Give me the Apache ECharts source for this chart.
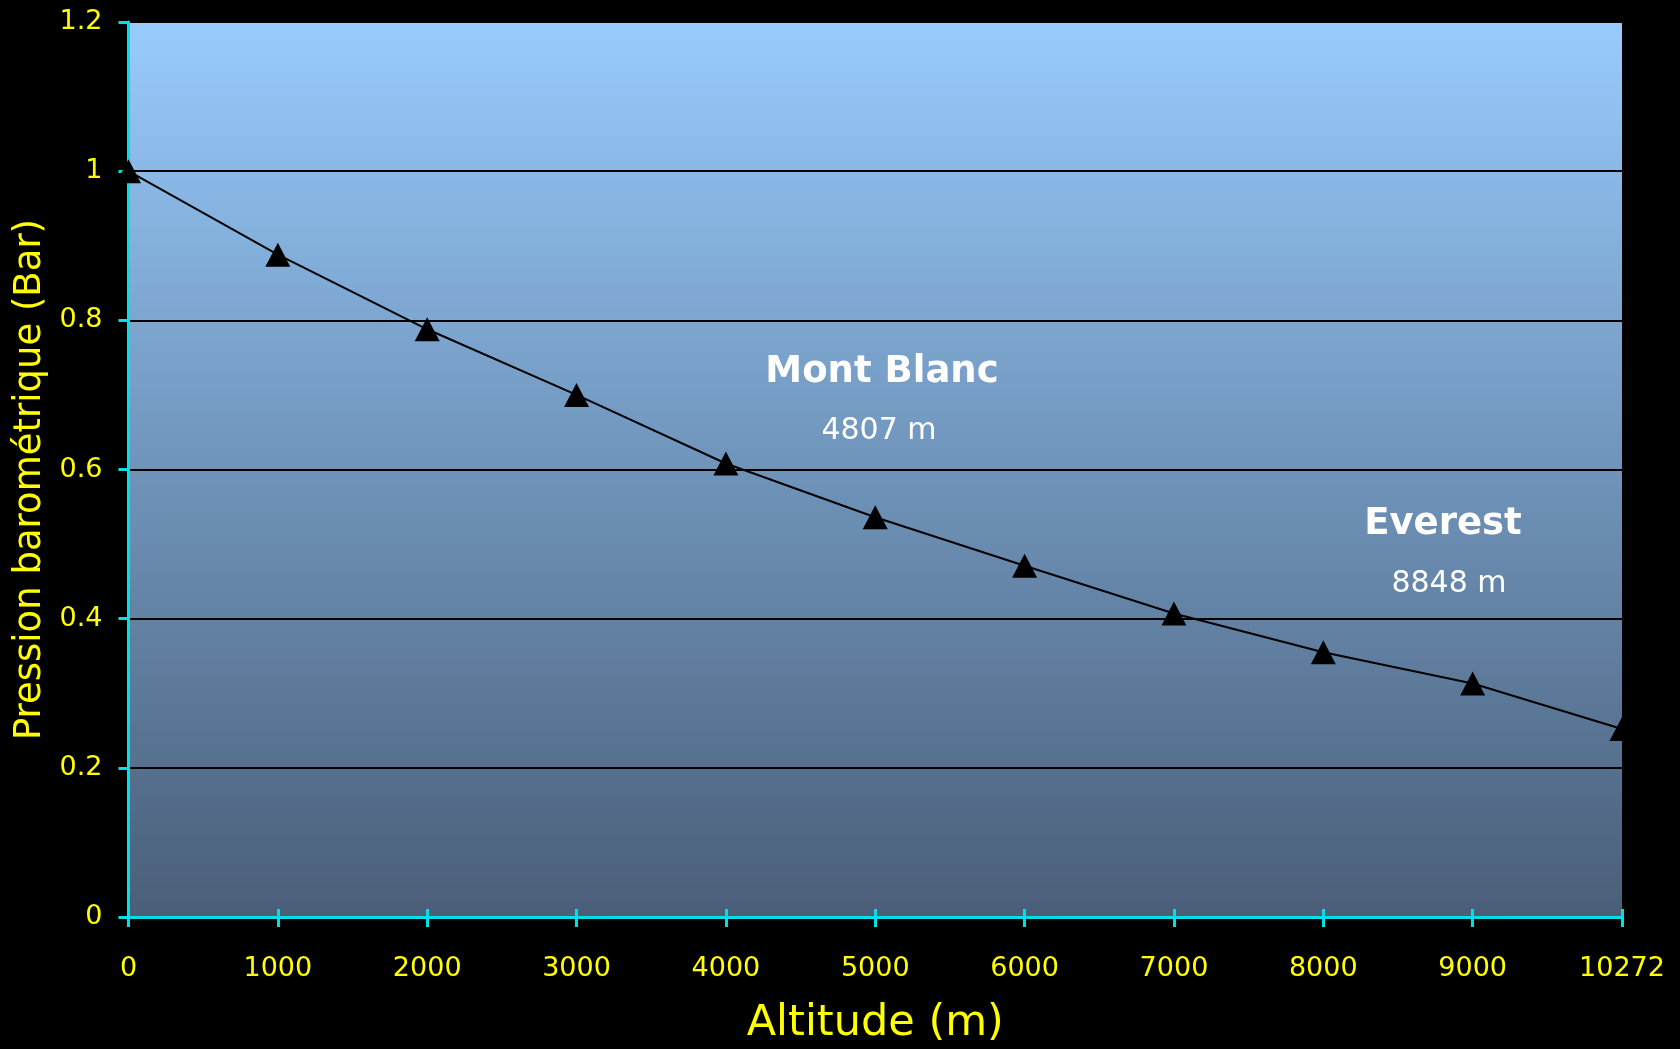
<!DOCTYPE html>
<html>
<head>
<meta charset="utf-8">
<script src="https://cdn.jsdelivr.net/npm/echarts@6/dist/echarts.min.js"></script>
<style>
  html, body { margin: 0; padding: 0; background: #000; }
  #chart { width: 1680px; height: 1049px; }
</style>
</head>
<body>
<div id="chart"></div>
<script>
// Barometric pressure versus altitude
const altitudes = ['0', '1000', '2000', '3000', '4000', '5000', '6000', '7000', '8000', '9000', '10272'];
const pressures = [1.0, 0.888, 0.788, 0.700, 0.608, 0.536, 0.471, 0.407, 0.355, 0.313, 0.252];
const yTicks = { min: 0, max: 1.2, interval: 0.2 };
const peaks = [
  { name: 'Mont Blanc', height: '4807 m' },
  { name: 'Everest', height: '8848 m' }
];

const FONT = '"Comic Sans MS", "DejaVu Sans", sans-serif';
const CYAN = '#00E0E6';
const YELLOW = '#FFFF00';

// label placement for the two summits (pixels): [nameX, nameY, heightX, heightY]
const peakPos = [[882, 372, 879, 431], [1443, 524, 1449, 584]];

const chart = echarts.init(document.getElementById('chart'));

const graphics = [];
peaks.forEach((p, i) => {
  const [nx, ny, hx, hy] = peakPos[i];
  graphics.push({
    type: 'text', x: nx, y: ny, z: 10,
    style: { text: p.name, fill: '#fff', font: 'bold 37px ' + FONT, align: 'center', verticalAlign: 'middle' }
  });
  graphics.push({
    type: 'text', x: hx, y: hy, z: 10,
    style: { text: p.height, fill: '#fff', font: '30px ' + FONT, align: 'center', verticalAlign: 'middle' }
  });
});

chart.setOption({
  backgroundColor: '#000',
  animation: false,
  grid: {
    left: 128.5, right: 58, top: 22, bottom: 132,
    outerBoundsMode: 'none',
    containLabel: false,
    show: true, borderWidth: 0,
    backgroundColor: {
      type: 'linear', x: 0, y: 0, x2: 0, y2: 1,
      colorStops: [
        { offset: 0, color: '#98CBFD' },
        { offset: 0.5, color: '#6F94BA' },
        { offset: 1, color: '#4A5E78' }
      ]
    }
  },
  xAxis: [
    {
      type: 'category', data: altitudes, boundaryGap: false,
      name: 'Altitude (m)', nameLocation: 'middle', nameGap: 85,
      nameTextStyle: { color: YELLOW, fontFamily: FONT, fontSize: 43 },
      axisLine: { lineStyle: { color: CYAN, width: 3 } },
      axisTick: { show: true, length: 10, lineStyle: { color: CYAN, width: 3 } },
      axisLabel: { color: YELLOW, fontFamily: FONT, fontSize: 27, margin: 38 },
      splitLine: { show: false }
    },
    {
      type: 'category', data: altitudes, boundaryGap: false, position: 'bottom',
      axisLine: { show: false },
      axisTick: { show: true, inside: true, length: 8, lineStyle: { color: CYAN, width: 3 } },
      axisLabel: { show: false },
      splitLine: { show: false }
    }
  ],
  yAxis: {
    type: 'value', min: yTicks.min, max: yTicks.max, interval: yTicks.interval,
    name: 'Pression barométrique (Bar)', nameLocation: 'middle', nameGap: 73,
    nameTextStyle: { color: YELLOW, fontFamily: FONT, fontSize: 37, padding: [0, 20, 0, 0] },
    axisLine: { show: true, lineStyle: { color: CYAN, width: 3 } },
    axisTick: { show: true, length: 10, lineStyle: { color: CYAN, width: 3 } },
    axisLabel: { color: YELLOW, fontFamily: FONT, fontSize: 27, margin: 26 },
    splitLine: { show: true, lineStyle: { color: '#000', width: 2 } }
  },
  series: [{
    type: 'line',
    data: pressures,
    xAxisIndex: 0,
    symbol: 'triangle',
    symbolSize: [25, 24],
    showAllSymbol: true,
    itemStyle: { color: '#000' },
    lineStyle: { color: '#000', width: 2 },
    z: 5
  }],
  graphic: graphics
});
</script>
</body>
</html>
